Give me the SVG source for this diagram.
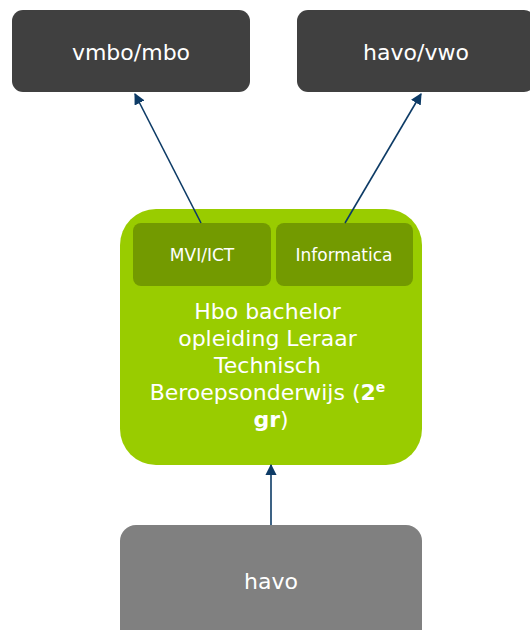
<svg xmlns="http://www.w3.org/2000/svg" width="530" height="630" viewBox="0 0 530 630">
  <defs>
    <marker id="arrow" viewBox="0 0 10 10" refX="9" refY="5" markerWidth="7" markerHeight="7" orient="auto-start-reverse" markerUnits="strokeWidth">
      <path d="M0,0 L10,5 L0,10 z" fill="#0d3b66"/>
    </marker>
    <style>
      .lbl { font-family: "DejaVu Sans", Verdana, sans-serif; fill: #ffffff; text-anchor: middle; }
      .dark { fill: #404040; }
      .sub { fill: #739a00; }
      .edge { stroke: #0d3b66; stroke-width: 1.6; fill: none; marker-end: url(#arrow); }
    </style>
  </defs>
  <rect width="530" height="630" fill="#ffffff"/>

  <g id="vmbo-mbo">
    <rect class="dark" x="12" y="10" width="238" height="82" rx="11"/>
    <text class="lbl" x="131" y="60" font-size="22">vmbo/mbo</text>
  </g>

  <g id="havo-vwo">
    <rect class="dark" x="297" y="10" width="238" height="82" rx="11"/>
    <text class="lbl" x="416" y="60" font-size="22">havo/vwo</text>
  </g>

  <g id="hbo-lerarenopleiding">
    <rect x="120" y="209" width="302" height="256" rx="36" fill="#99cc00"/>
    <text class="lbl" font-size="22">
      <tspan x="271" y="319">Hbo bachelor</tspan>
      <tspan x="271" y="346">opleiding Leraar</tspan>
      <tspan x="271" y="373">Technisch</tspan>
      <tspan x="271" y="400">Beroepsonderwijs (<tspan font-weight="bold">2</tspan><tspan font-weight="bold" font-size="14" dy="-8">e</tspan></tspan>
      <tspan x="271" y="427"><tspan font-weight="bold">gr</tspan>)</tspan>
    </text>
  </g>

  <g id="mvi-ict">
    <rect class="sub" x="133" y="223" width="138" height="63" rx="8"/>
    <text class="lbl" x="202" y="261" font-size="17">MVI/ICT</text>
  </g>

  <g id="informatica">
    <rect class="sub" x="276" y="223" width="137" height="63" rx="8"/>
    <text class="lbl" x="344" y="261" font-size="17">Informatica</text>
  </g>

  <g id="havo">
    <rect x="120" y="525" width="302" height="120" rx="16" fill="#808080"/>
    <text class="lbl" x="271" y="589" font-size="22">havo</text>
  </g>

  <g id="connectors">
    <line class="edge" x1="201" y1="223" x2="135" y2="94"/>
    <line class="edge" x1="345" y1="223" x2="421" y2="94"/>
    <line class="edge" x1="271" y1="525" x2="271" y2="465"/>
  </g>
</svg>
